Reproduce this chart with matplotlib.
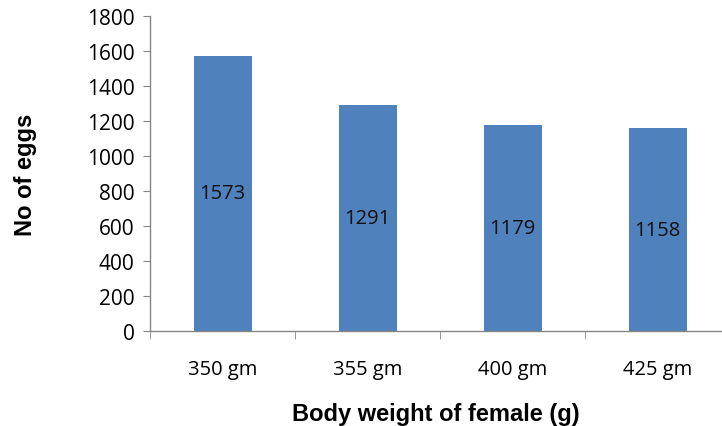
import matplotlib.pyplot as plt
from matplotlib.ticker import FixedLocator
import numpy as np

# Data
weights = ["350 gm", "355 gm", "400 gm", "425 gm"]
eggs = [1573, 1291, 1179, 1158]
yticks = [0, 200, 400, 600, 800, 1000, 1200, 1400, 1600, 1800]

bar_color = "#4F81BD"
axis_color = "#868686"

fig = plt.figure(figsize=(7.22, 4.27), dpi=100)
ax = fig.add_axes([150/722, 1 - 332/427, (722 - 150)/722, (332 - 17)/427])

x = np.arange(len(weights))
bars = ax.bar(x, eggs, width=0.4, color=bar_color, zorder=2)

# bar labels in the middle of each bar
for xi, v in zip(x, eggs):
    ax.text(xi, v / 2, str(v), ha="center", va="center",
            fontsize=14.5, family="Open Sans", color="#111111")

# right side of the plot area is cut off by the image edge
ax.set_xlim(-0.5, 3.5 - 8/145)
ax.set_ylim(0, 1800)

ax.set_yticks(yticks)
ax.set_yticklabels([str(t) for t in yticks], family="Open Sans", fontsize=15)
ax.set_xticks(x)
ax.set_xticklabels(weights, family="Open Sans", fontsize=14.5)
ax.xaxis.set_minor_locator(FixedLocator([-0.5, 0.5, 1.5, 2.5]))

ax.tick_params(axis="x", which="major", length=0, pad=20)
ax.tick_params(axis="x", which="minor", length=6, color=axis_color, direction="out")
ax.tick_params(axis="y", length=5, color=axis_color, direction="out", pad=6)

for s in ["top", "right"]:
    ax.spines[s].set_visible(False)
for s in ["left", "bottom"]:
    ax.spines[s].set_color(axis_color)
    ax.spines[s].set_linewidth(1)

ax.set_ylabel("No of eggs", family="Liberation Sans", fontweight="bold",
              fontsize=17, labelpad=36)
ax.set_xlabel("Body weight of female (g)", family="Liberation Sans",
              fontweight="bold", fontsize=17, labelpad=17)

fig.savefig("out.png", dpi=100)
